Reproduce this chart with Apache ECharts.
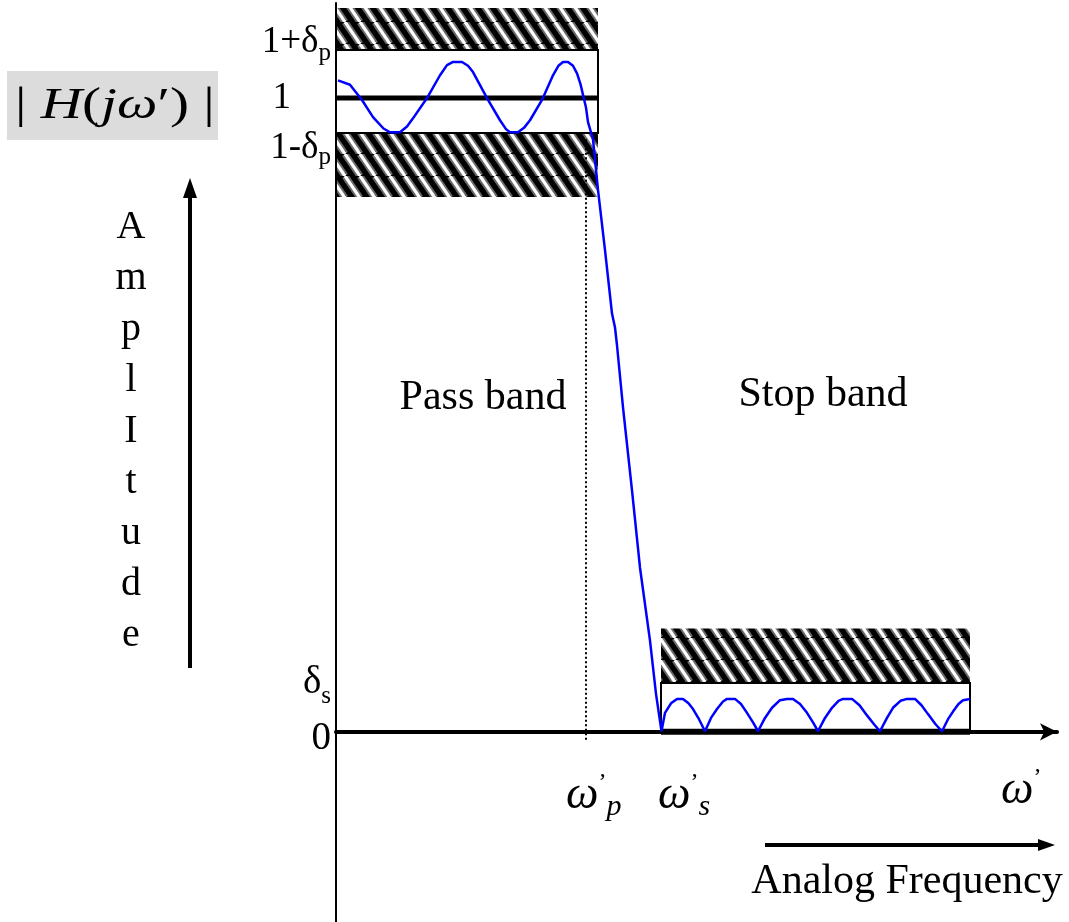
<!DOCTYPE html>
<html><head><meta charset="utf-8">
<script src="https://cdn.jsdelivr.net/npm/echarts@6/dist/echarts.min.js"></script>
<style>html,body{margin:0;padding:0;background:#fff}#c{width:1069px;height:922px}</style>
</head><body><div id="c"></div>
<script>
// ---------------- data ----------------
const omegaP = 1.0;      // passband edge frequency
const omegaS = 1.30;     // stopband edge frequency
const passBoxEnd = 1.048;
const stopBoxEnd = 2.536;
const xMax = 2.884;
const yMin = -0.30, yMax = 1.15;
const onePlusDeltaP = 1.076;
const oneMinusDeltaP = 0.945;
const deltaS = 0.077;

const yTickValues = [0, deltaS, oneMinusDeltaP, 1, onePlusDeltaP];
const yTickLabels = ['0', 'δs', '1-δp', '1', '1+δp'];

// hatched forbidden regions [x0, x1, y0, y1]
const hatchBands = [
  [0, passBoxEnd, onePlusDeltaP, 1.142],
  [0, passBoxEnd, 0.844, oneMinusDeltaP],
  [omegaS, stopBoxEnd, deltaS, 0.163]
];
// tolerance boxes [x0, x1, y0, y1]
const toleranceBoxes = [
  [0, passBoxEnd, oneMinusDeltaP, onePlusDeltaP],
  [omegaS, stopBoxEnd, 0, deltaS]
];

const passbandCurve = [
  [0.008,1.028],[0.056,1.021],[0.104,0.997],[0.148,0.970],[0.190,0.952],[0.216,0.946],[0.256,0.946],
  [0.284,0.955],[0.308,0.968],[0.364,1.000],[0.416,1.036],[0.444,1.052],[0.468,1.057],[0.504,1.057],
  [0.528,1.051],[0.548,1.041],[0.604,1.000],[0.656,0.965],[0.680,0.951],[0.696,0.946],[0.728,0.946],
  [0.752,0.953],[0.776,0.965],[0.824,0.997],[0.868,1.036],[0.890,1.051],[0.908,1.057],[0.928,1.057],
  [0.948,1.051],[0.964,1.039],[0.978,1.022],[0.988,1.005],[1.000,0.985],[1.008,0.962],[1.028,0.935]
];
const transitionCurve = [
  [1.048,0.855],[1.076,0.760],[1.104,0.660],[1.116,0.638],[1.124,0.610],[1.148,0.512],[1.184,0.381],
  [1.216,0.259],[1.256,0.144],[1.280,0.060],[1.302,0.001]
];
const stopbandCurve = [
  [1.316,0.030],[1.340,0.045],[1.364,0.052],[1.388,0.052],[1.410,0.045],[1.428,0.036],[1.452,0.020],[1.476,0.001],
  [1.500,0.022],[1.524,0.036],[1.548,0.048],[1.564,0.052],[1.596,0.052],[1.620,0.044],[1.644,0.030],[1.668,0.015],[1.688,0.001],
  [1.716,0.022],[1.744,0.038],[1.776,0.050],[1.804,0.052],[1.828,0.052],[1.856,0.044],[1.884,0.030],[1.908,0.015],[1.928,0.001],
  [1.956,0.022],[1.984,0.038],[2.010,0.049],[2.028,0.052],[2.064,0.052],[2.094,0.042],[2.124,0.026],[2.152,0.012],[2.176,0.001],
  [2.204,0.022],[2.228,0.038],[2.258,0.049],[2.284,0.052],[2.316,0.052],[2.342,0.042],[2.368,0.028],[2.398,0.012],[2.424,0.001],
  [2.448,0.020],[2.468,0.032],[2.490,0.044],[2.508,0.050],[2.536,0.052]
];
const responseCurve = passbandCurve.concat(transitionCurve, stopbandCurve);

// ---------------- drawing ----------------
const serif = '"Liberation Serif", "Times New Roman", serif';

function makeHatch() {
  const w = 15, h = 22;
  const c = document.createElement('canvas');
  c.width = w; c.height = h;
  const g = c.getContext('2d');
  g.fillStyle = '#000'; g.fillRect(0, 0, w, h);
  [[7, '#6a6a6a'], [3.2, '#fff']].forEach(([lw, col]) => {
    g.strokeStyle = col; g.lineWidth = lw;
    for (const o of [-w, 0, w]) { g.beginPath(); g.moveTo(o, 0); g.lineTo(o + w, h); g.stroke(); }
  });
  return c;
}
const hatchCanvas = makeHatch();

function rectFromData(api) {
  const p0 = api.coord([api.value(0), api.value(3)]);
  const p1 = api.coord([api.value(1), api.value(2)]);
  return { x: p0[0], y: p0[1], width: p1[0] - p0[0], height: p1[1] - p0[1] };
}

const labelRichKey = { '0': 'e', 'δs': 'd', '1-δp': 'c', '1': 'b', '1+δp': 'a' };
function yLabel(value) {
  const i = yTickValues.indexOf(value);
  if (i < 0) return '';
  const t = yTickLabels[i];
  const k = labelRichKey[t];
  if (t.indexOf('δ') >= 0) {
    const main = t.slice(0, -1), sub = t.slice(-1);
    return '{' + k + '|' + main + '}{' + k + 'S|' + sub + '}';
  }
  return '{' + k + '|' + t + '}';
}

const chart = echarts.init(document.getElementById('c'));
const option = {
  animation: false,
  backgroundColor: '#fff',
  grid: { left: 336, right: 12, top: 3, bottom: 0 },
  xAxis: {
    type: 'value', min: 0, max: xMax, z: 4,
    splitLine: { show: false }, axisTick: { show: false }, axisLabel: { show: false },
    axisLine: { show: true, onZero: true, symbol: ['none', 'arrow'], symbolSize: [13, 17],
      lineStyle: { color: '#000', width: 4 } }
  },
  yAxis: {
    type: 'value', min: yMin, max: yMax, z: 4,
    splitLine: { show: false }, axisTick: { show: false },
    axisLine: { show: true, onZero: false, lineStyle: { color: '#000', width: 2 } },
    axisLabel: {
      show: true, customValues: yTickValues, margin: 5, formatter: yLabel,
      rich: {
        a:  { fontFamily: serif, fontSize: 37, color: '#000', padding: [0, 0, 16, 0] },
        aS: { fontFamily: serif, fontSize: 25, color: '#000', padding: [8, 0, 0, 0] },
        b:  { fontFamily: serif, fontSize: 37, color: '#000', padding: [0, 40, 0, 0] },
        c:  { fontFamily: serif, fontSize: 37, color: '#000', padding: [30, 0, 0, 0] },
        cS: { fontFamily: serif, fontSize: 25, color: '#000', padding: [50, 0, 0, 0] },
        d:  { fontFamily: serif, fontSize: 39, color: '#000', padding: [0, 0, 0, 0] },
        dS: { fontFamily: serif, fontSize: 25, color: '#000', padding: [26, 0, 0, 0] },
        e:  { fontFamily: serif, fontSize: 39, color: '#000', padding: [14, 0, 0, 0] }
      }
    }
  },
  series: [
    {
      type: 'custom', name: 'hatch', z: 1, silent: true,
      data: hatchBands, encode: { x: [0, 1], y: [2, 3] },
      renderItem: (params, api) => ({
        type: 'rect', shape: rectFromData(api),
        style: { fill: { type: 'pattern', image: hatchCanvas, repeat: 'repeat' } }
      })
    },
    {
      type: 'custom', name: 'boxes', z: 2, silent: true,
      data: toleranceBoxes, encode: { x: [0, 1], y: [2, 3] },
      renderItem: (params, api) => ({
        type: 'rect', shape: rectFromData(api),
        style: { fill: '#fff', stroke: '#000', lineWidth: 2 }
      })
    },
    {
      type: 'line', name: 'unity', z: 3, silent: true, symbol: 'none',
      data: [[0, 1], [passBoxEnd, 1]], lineStyle: { color: '#000', width: 5 }
    },
    {
      type: 'line', name: 'stopFloor', z: 3, silent: true, symbol: 'none',
      data: [[omegaS, 0], [stopBoxEnd, 0]], lineStyle: { color: '#000', width: 6 }
    },
    {
      type: 'line', name: 'wpMarker', z: 3, silent: true, symbol: 'none',
      data: [[omegaP, oneMinusDeltaP - 0.01], [omegaP, -0.016]], lineStyle: { color: '#000', width: 2, type: [2, 2.5] }
    },
    {
      type: 'line', name: 'response', z: 6, silent: true, symbol: 'none',
      data: responseCurve, lineStyle: { color: '#0000ff', width: 2.5 }
    }
  ]
};
chart.setOption(option);

const xp = v => chart.convertToPixel({ xAxisIndex: 0 }, v);
const omegaRich = {
  w:  { fontFamily: serif, fontStyle: 'italic', fontSize: 46, color: '#000' },
  pr: { fontFamily: serif, fontSize: 24, color: '#000', padding: [0, 0, 26, 0] },
  sb: { fontFamily: serif, fontStyle: 'italic', fontSize: 30, color: '#000', padding: [22, 0, 0, 0] }
};
const txt = (x, y, text, extra) => Object.assign({
  type: 'text', x: x, y: y, silent: true,
  style: Object.assign({ text: text, fill: '#000', font: '42px ' + serif, align: 'center', verticalAlign: 'middle' }, extra || {})
});

chart.setOption({
  graphic: [
    { type: 'rect', shape: { x: 7, y: 71, width: 211, height: 69 }, style: { fill: '#dcdcdc' }, silent: true },
    {
      type: 'text', x: 15, y: 106, scaleX: 1.3, silent: true,
      style: {
        text: '{n|| }{i|H}{n|(}{i|jω}{n|′)}{n| |}', align: 'left', verticalAlign: 'middle',
        rich: {
          n: { fontFamily: serif, fontSize: 44, color: '#000' },
          i: { fontFamily: serif, fontStyle: 'italic', fontSize: 44, color: '#000' }
        }
      }
    },
    txt(131, 202, 'A\nm\np\nl\nI\nt\nu\nd\ne', { verticalAlign: 'top', lineHeight: 51, font: '40px ' + serif }),
    { type: 'line', shape: { x1: 190, y1: 668, x2: 190, y2: 194 }, style: { stroke: '#000', lineWidth: 4 }, silent: true },
    { type: 'polygon', shape: { points: [[190, 178], [183, 198], [197, 198]] }, style: { fill: '#000' }, silent: true },
    txt(483, 398, 'Pass band'),
    txt(823, 395, 'Stop band'),
    {
      type: 'text', x: xp(omegaP) - 20, y: 796, silent: true,
      style: { text: '{w|ω}{pr|’}{sb|p}', align: 'left', verticalAlign: 'middle', rich: omegaRich }
    },
    {
      type: 'text', x: xp(omegaS) - 3, y: 796, silent: true,
      style: { text: '{w|ω}{pr|’}{sb|s}', align: 'left', verticalAlign: 'middle', rich: omegaRich }
    },
    {
      type: 'text', x: 1001, y: 791, silent: true,
      style: { text: '{w|ω}{pr|’}', align: 'left', verticalAlign: 'middle', rich: omegaRich }
    },
    { type: 'line', shape: { x1: 765, y1: 845, x2: 1040, y2: 845 }, style: { stroke: '#000', lineWidth: 4 }, silent: true },
    { type: 'polygon', shape: { points: [[1055, 845], [1038, 839], [1038, 851]] }, style: { fill: '#000' }, silent: true },
    txt(907, 882, 'Analog Frequency')
  ]
});
</script>
</body></html>
